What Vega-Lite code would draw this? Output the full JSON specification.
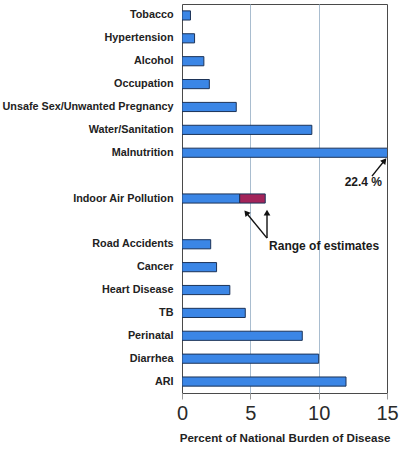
{
  "$schema": "https://vega.github.io/schema/vega-lite/v6.json",
  "width": 205,
  "height": 389,
  "autosize": {"type": "none"},
  "padding": {"left": 182, "top": 4, "right": 13, "bottom": 59},
  "config": {
    "font": "Liberation Sans",
    "view": {"stroke": "#4a4a4a", "strokeWidth": 1}
  },
  "datasets": {
    "bars": [
      {"cause": "Tobacco", "start": 0, "end": 0.62, "kind": "estimate"},
      {"cause": "Hypertension", "start": 0, "end": 0.92, "kind": "estimate"},
      {"cause": "Alcohol", "start": 0, "end": 1.6, "kind": "estimate"},
      {"cause": "Occupation", "start": 0, "end": 2.0, "kind": "estimate"},
      {"cause": "Unsafe Sex/Unwanted Pregnancy", "start": 0, "end": 3.97, "kind": "estimate"},
      {"cause": "Water/Sanitation", "start": 0, "end": 9.5, "kind": "estimate"},
      {"cause": "Malnutrition", "start": 0, "end": 22.4, "kind": "estimate"},
      {"cause": "Indoor Air Pollution", "start": 0, "end": 4.22, "kind": "estimate"},
      {"cause": "Indoor Air Pollution", "start": 4.22, "end": 6.09, "kind": "range"},
      {"cause": "Road Accidents", "start": 0, "end": 2.1, "kind": "estimate"},
      {"cause": "Cancer", "start": 0, "end": 2.53, "kind": "estimate"},
      {"cause": "Heart Disease", "start": 0, "end": 3.5, "kind": "estimate"},
      {"cause": "TB", "start": 0, "end": 4.63, "kind": "estimate"},
      {"cause": "Perinatal", "start": 0, "end": 8.8, "kind": "estimate"},
      {"cause": "Diarrhea", "start": 0, "end": 10.0, "kind": "estimate"},
      {"cause": "ARI", "start": 0, "end": 12.0, "kind": "estimate"}
    ],
    "arrows": [
      {"id": "a", "x1": 6.22, "y1": 10.23, "x2": 4.7, "y2": 9.12},
      {"id": "b", "x1": 6.22, "y1": 10.23, "x2": 6.22, "y2": 9.12},
      {"id": "c", "x1": 13.9, "y1": 7.52, "x2": 14.82, "y2": 6.84}
    ],
    "notes": [
      {"label": "Range of estimates", "x": 6.37, "y": 10.58},
      {"label": "22.4 %", "x": 11.9, "y": 7.8}
    ]
  },
  "layer": [
    {
      "data": {"name": "bars"},
      "mark": {"type": "bar", "clip": true, "stroke": "#1c3358", "strokeWidth": 1},
      "encoding": {
        "y": {
          "field": "cause",
          "type": "nominal",
          "sort": null,
          "scale": {
            "domain": ["Tobacco", "Hypertension", "Alcohol", "Occupation", "Unsafe Sex/Unwanted Pregnancy", "Water/Sanitation", "Malnutrition", " ", "Indoor Air Pollution", "  ", "Road Accidents", "Cancer", "Heart Disease", "TB", "Perinatal", "Diarrhea", "ARI"],
            "paddingInner": 0.6,
            "paddingOuter": 0.3
          },
          "axis": {
            "title": null,
            "ticks": false,
            "domain": false,
            "labelPadding": 9,
            "labelFontSize": 10.8,
            "labelFontWeight": "bold",
            "labelColor": "#222222",
            "labelLimit": 300
          }
        },
        "x": {
          "field": "start",
          "type": "quantitative",
          "title": "Percent of National Burden of Disease",
          "scale": {"domain": [0, 15], "nice": false},
          "axis": {
            "title": "Percent of National Burden of Disease",
            "values": [0, 5, 10, 15],
            "grid": true,
            "gridColor": "#a9bdcf",
            "gridOpacity": {"condition": {"test": "datum.value == 0 || datum.value == 15", "value": 0}, "value": 1},
            "domain": false,
            "ticks": true,
            "tickColor": "#9a9a9a",
            "tickSize": 6,
            "labelFontSize": 20,
            "labelColor": "#2a2a2a",
            "labelPadding": 4,
            "labelFlush": false,
            "titleFontSize": 11.6,
            "titleFontWeight": "bold",
            "titleColor": "#222222",
            "titlePadding": 9
          }
        },
        "x2": {"field": "end"},
        "color": {
          "field": "kind",
          "type": "nominal",
          "scale": {"domain": ["estimate", "range"], "range": ["#3b86e6", "#a3245a"]},
          "legend": null
        }
      }
    },
    {
      "layer": [
        {
          "data": {"name": "arrows"},
          "mark": {"type": "rule", "stroke": "#111111", "strokeWidth": 1.4},
          "encoding": {
            "x": {"field": "x1", "type": "quantitative", "title": "Percent of National Burden of Disease"},
            "x2": {"field": "x2"},
            "y": {"field": "y1", "type": "quantitative", "scale": {"domain": [0, 17], "reverse": true, "nice": false}, "axis": null},
            "y2": {"field": "y2"}
          }
        },
        {
          "data": {"name": "arrows"},
          "transform": [{"filter": "datum.id == 'a'"}],
          "mark": {"type": "point", "shape": "triangle-up", "filled": true, "color": "#111111", "size": 45, "angle": 321, "opacity": 1},
          "encoding": {
            "x": {"field": "x2", "type": "quantitative", "title": "Percent of National Burden of Disease"},
            "y": {"field": "y2", "type": "quantitative", "axis": null}
          }
        },
        {
          "data": {"name": "arrows"},
          "transform": [{"filter": "datum.id == 'b'"}],
          "mark": {"type": "point", "shape": "triangle-up", "filled": true, "color": "#111111", "size": 45, "angle": 0, "opacity": 1},
          "encoding": {
            "x": {"field": "x2", "type": "quantitative", "title": "Percent of National Burden of Disease"},
            "y": {"field": "y2", "type": "quantitative", "axis": null}
          }
        },
        {
          "data": {"name": "arrows"},
          "transform": [{"filter": "datum.id == 'c'"}],
          "mark": {"type": "point", "shape": "triangle-up", "filled": true, "color": "#111111", "size": 45, "angle": 39, "opacity": 1},
          "encoding": {
            "x": {"field": "x2", "type": "quantitative", "title": "Percent of National Burden of Disease"},
            "y": {"field": "y2", "type": "quantitative", "axis": null}
          }
        },
        {
          "data": {"name": "notes"},
          "mark": {"type": "text", "align": "left", "baseline": "middle", "fontSize": 12, "fontWeight": "bold", "color": "#1a1a1a"},
          "encoding": {
            "x": {"field": "x", "type": "quantitative", "title": "Percent of National Burden of Disease"},
            "y": {"field": "y", "type": "quantitative", "axis": null},
            "text": {"field": "label"}
          }
        }
      ]
    }
  ],
  "resolve": {"scale": {"y": "independent"}}
}
